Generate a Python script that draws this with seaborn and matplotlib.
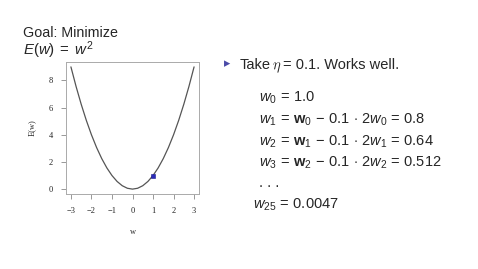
import matplotlib
matplotlib.use("Agg")
import matplotlib.pyplot as plt
import seaborn as sns
import pandas as pd

# data
w_vals = [-3.0, -2.75, -2.5, -2.25, -2.0, -1.75, -1.5, -1.25, -1.0, -0.75, -0.5, -0.25,
          0.0, 0.25, 0.5, 0.75, 1.0, 1.25, 1.5, 1.75, 2.0, 2.25, 2.5, 2.75, 3.0]
E_vals = [9.0, 7.5625, 6.25, 5.0625, 4.0, 3.0625, 2.25, 1.5625, 1.0, 0.5625, 0.25, 0.0625,
          0.0, 0.0625, 0.25, 0.5625, 1.0, 1.5625, 2.25, 3.0625, 4.0, 5.0625, 6.25, 7.5625, 9.0]
point_w = [1.0]
point_E = [1.0]
x_ticks = [-3, -2, -1, 0, 1, 2, 3]
y_ticks = [0, 2, 4, 6, 8]

sns.set_style("white")
plt.rcParams['font.family'] = ['Liberation Sans', 'DejaVu Sans']
plt.rcParams['mathtext.fontset'] = 'custom'
plt.rcParams['mathtext.rm'] = 'Liberation Sans'
plt.rcParams['mathtext.it'] = 'Liberation Sans:italic'
plt.rcParams['mathtext.bf'] = 'Liberation Sans:bold'

fig = plt.figure(figsize=(4.78, 2.69), dpi=100)
W, H = 478, 269
ax = fig.add_axes([66 / W, 1 - 194 / H, (199 - 66) / W, (194 - 62) / H])

curve = pd.DataFrame({"w": w_vals, "E": E_vals})
pt = pd.DataFrame({"w": point_w, "E": point_E})
sns.lineplot(data=curve, x="w", y="E", ax=ax, color="#555555", linewidth=0.9)
sns.scatterplot(data=pt, x="w", y="E", ax=ax, color="#2b2bb8", marker="s", s=7,
                edgecolor="#1a1a90", linewidth=0.4, zorder=5)

ax.set_xlim(-3.24, 3.24)
ax.set_ylim(-0.36, 9.36)
ax.set_xticks(x_ticks)
ax.set_yticks(y_ticks)
serif = {'family': 'Liberation Serif', 'size': 6}
ax.set_xticklabels([("\u2212" + str(abs(t))) if t < 0 else str(t) for t in x_ticks], fontdict=serif)
ax.set_yticklabels([str(t) for t in y_ticks], fontdict=serif)
ax.set_xlabel("w", fontdict=serif, labelpad=9)
ax.set_ylabel("E(w)", fontdict=serif, labelpad=9)
ax.tick_params(axis='both', direction='out', length=3.5, width=0.6, color='#888888',
               labelcolor='#222222', pad=6, bottom=True, left=True)
for s in ax.spines.values():
    s.set_color('#aaaaaa')
    s.set_linewidth(0.7)

# left titles
fig.text(23 / W, 1 - 37 / H, "Goal: Minimize", fontsize=10.3, va='baseline', ha='left')
fig.text(23 / W, 1 - 55 / H, r"$E(w)\;=\;w^2$", fontsize=10.8, va='baseline', ha='left')

# right text
fig.text(227 / W, 1 - 64 / H, "\u25B8", fontsize=9, color='#4b4ba8', va='center', ha='center',
         family=['DejaVu Sans'])
fig.text(240 / W, 1 - 69 / H, "Take", fontsize=10.5, va='baseline', ha='left')
fig.text(272 / W, 1 - 69 / H, r"$\eta$", fontsize=10.5, va='baseline', ha='left',
         math_fontfamily='cm')
fig.text(283 / W, 1 - 69 / H, "= 0.1. Works well.", fontsize=10.5, va='baseline', ha='left')
lines = [
    (259, 102, r"$w_0\,=\,1.0$"),
    (259, 124, r"$w_1\,=\,\mathbf{w}_0\,-\,0.1\,\cdot\,2w_0\,=\,0.8$"),
    (259, 146, r"$w_2\,=\,\mathbf{w}_1\,-\,0.1\,\cdot\,2w_1\,=\,0.64$"),
    (259, 167, r"$w_3\,=\,\mathbf{w}_2\,-\,0.1\,\cdot\,2w_2\,=\,0.512$"),
    (259, 187, ". . ."),
    (253, 209, r"$w_{25}\,=\,0.0047$"),
]
for x, y, s in lines:
    fig.text(x / W, 1 - y / H, s, fontsize=10.5, va='baseline', ha='left')

fig.savefig("out.png", dpi=100)
